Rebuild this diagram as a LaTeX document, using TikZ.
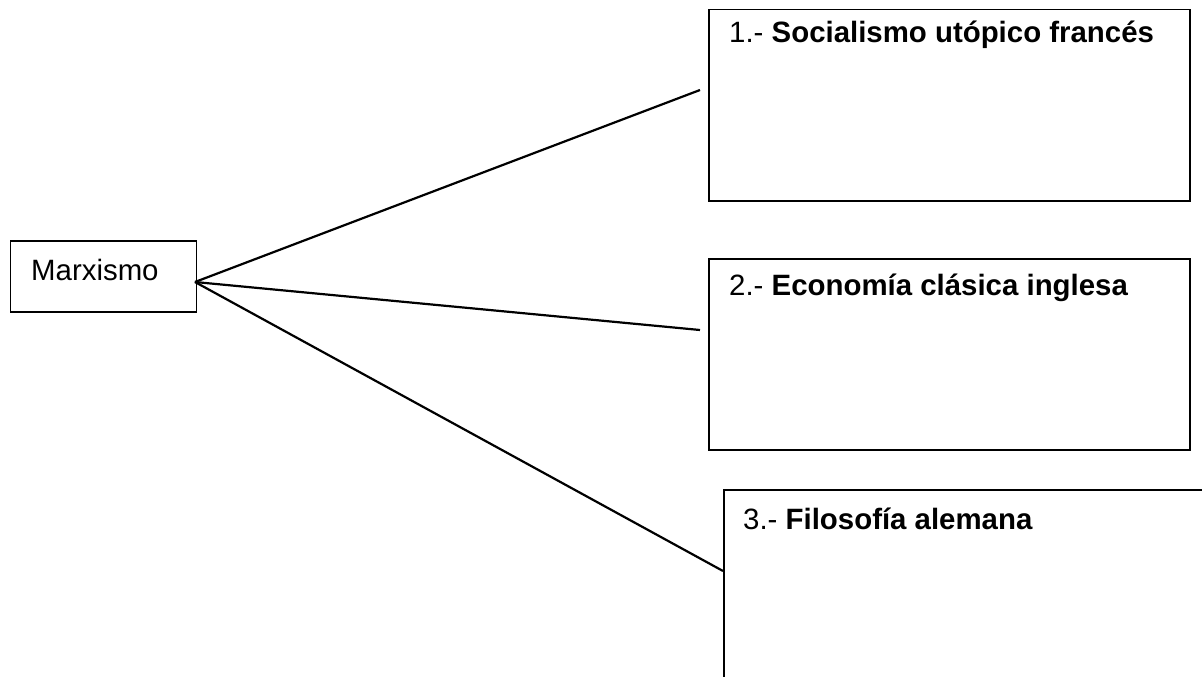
\documentclass[tikz,border=0pt]{standalone}
\usepackage{fontspec}
\setmainfont{Liberation Sans}
\begin{document}
\begin{tikzpicture}[x=1pt,y=-1pt,
  box/.style={draw=black, line width=1.5pt, rectangle, inner sep=0pt, anchor=north west},
  lbl/.style={anchor=base west, inner sep=0pt, font=\fontsize{29.4}{35}\selectfont},
  conn/.style={draw=black, line width=2.2pt}]
\useasboundingbox (0,0) rectangle (1202,677);
\clip (0,0) rectangle (1202,677);
% Marxismo
\node[box, minimum width=186pt, minimum height=71pt] (m) at (9.5,240) {};
\node[lbl] (mt) at (31,280) {Marxismo};
% Box 1
\node[box, minimum width=481pt, minimum height=191pt] (b1) at (708,9) {};
\node[lbl] (t1) at (729,43) {1.- \textbf{Socialismo utópico francés}};
% Box 2
\node[box, minimum width=481pt, minimum height=191pt] (b2) at (708,258) {};
\node[lbl] (t2) at (729,295) {2.- \textbf{Economía clásica inglesa}};
% Box 3 (runs off the page)
\node[box, line width=2pt, minimum width=520pt, minimum height=260pt] (b3) at (723,489) {};
\node[lbl] (t3) at (743,529) {3.- \textbf{Filosofía alemana}};
% connectors
\coordinate (s) at (195,282);
\coordinate (e1) at (700,90);
\coordinate (e2) at (700,330);
\coordinate (e3) at (723,571);
\draw[conn] (s) -- (e1);
\draw[conn] (s) -- (e2);
\draw[conn] (s) -- (e3);
\end{tikzpicture}
\end{document}
